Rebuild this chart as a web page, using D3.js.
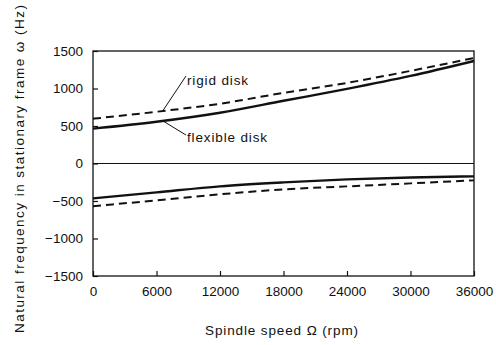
<!DOCTYPE html>
<html><head><meta charset="utf-8">
<script src="https://cdn.jsdelivr.net/npm/d3@7"></script>
<style>body{margin:0;background:#fff}svg{display:block}text{font-family:"Liberation Sans",Arial,sans-serif;fill:#111}</style>
</head><body>
<svg id="c" width="496" height="345"></svg>
<script>
const speeds = [0, 6000, 12000, 18000, 24000, 30000, 36000];
const flexibleUpper = [465, 557, 677, 836, 995, 1168, 1367];
const rigidUpper = [597, 690, 797, 942, 1075, 1235, 1407];
const flexibleLower = [-465, -385, -305, -252, -212, -186, -172];
const rigidLower = [-570, -491, -411, -345, -305, -265, -225];
const xTicks = [0, 6000, 12000, 18000, 24000, 30000, 36000];
const yTicks = [-1500, -1000, -500, 0, 500, 1000, 1500];

const svg = d3.select("#c");
const L = 93, R = 474, T = 51, B = 276;
const x = d3.scaleLinear().domain([0, 36000]).range([L, R]);
const y = d3.scaleLinear().domain([-1500, 1500]).range([B, T]);
const FS = "13.5px";

svg.append("rect").attr("x", L).attr("y", T).attr("width", R - L).attr("height", B - T)
  .attr("fill", "none").attr("stroke", "#111").attr("stroke-width", 1.3);
svg.append("line").attr("x1", L).attr("x2", R).attr("y1", y(0)).attr("y2", y(0))
  .attr("stroke", "#111").attr("stroke-width", 1.2);

const xa = svg.append("g").attr("transform", `translate(0,${B})`)
  .call(d3.axisBottom(x).tickValues(xTicks).tickSize(-5).tickPadding(10).tickFormat(d3.format("d")));
const ya = svg.append("g").attr("transform", `translate(${L},0)`)
  .call(d3.axisLeft(y).tickValues(yTicks).tickSize(-5).tickPadding(10).tickFormat(d => d < 0 ? "\u2212" + Math.abs(d) : d));
[xa, ya].forEach(a => {
  a.select(".domain").remove();
  a.selectAll("line").attr("stroke", "#111").attr("stroke-width", 1.2);
  a.selectAll("text").style("font-family", "Liberation Sans, Arial, sans-serif").style("font-size", FS).attr("fill", "#111");
});

const line = d3.line().x((d, i) => x(speeds[i])).y(d => y(d)).curve(d3.curveMonotoneX);
[[flexibleUpper, null], [flexibleLower, null], [rigidUpper, "8,5"], [rigidLower, "8,5"]].forEach(([s, dash]) => {
  svg.append("path").datum(s).attr("d", line).attr("fill", "none").attr("stroke", "#111")
    .attr("stroke-width", dash ? 2 : 2.4).attr("stroke-dasharray", dash);
});

svg.append("line").attr("x1", 162).attr("y1", 112).attr("x2", 186).attr("y2", 76).attr("stroke", "#111").attr("stroke-width", 1);
svg.append("text").attr("x", 187).attr("y", 85).style("font-size", FS)
  .attr("textLength", 61).attr("lengthAdjust", "spacing").text("rigid disk");
svg.append("line").attr("x1", 163).attr("y1", 121).attr("x2", 186).attr("y2", 135).attr("stroke", "#111").attr("stroke-width", 1);
svg.append("text").attr("x", 187).attr("y", 142).style("font-size", FS)
  .attr("textLength", 80).attr("lengthAdjust", "spacing").text("flexible disk");

svg.append("text").attr("x", 205).attr("y", 335)
  .style("font-size", FS).attr("textLength", 153).attr("lengthAdjust", "spacing").text("Spindle speed  \u03A9 (rpm)");
svg.append("text").attr("transform", "translate(24,333) rotate(-90)")
  .style("font-size", FS).attr("textLength", 328).attr("lengthAdjust", "spacing")
  .text("Natural frequency in stationary frame  \u03C9 (Hz)");
</script>
</body></html>
